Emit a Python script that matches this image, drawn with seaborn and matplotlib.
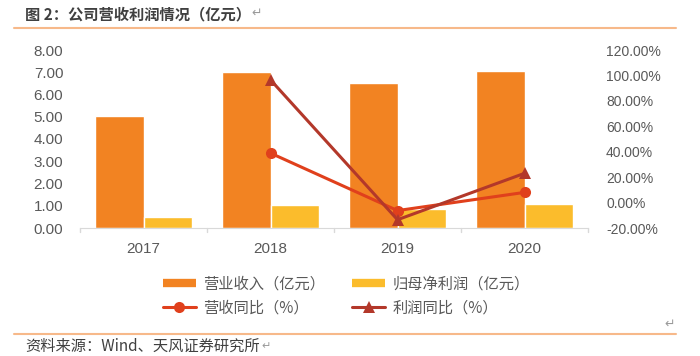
import pandas as pd
import numpy as np
import matplotlib
matplotlib.use('Agg')
import matplotlib.pyplot as plt
import seaborn as sns
from matplotlib.lines import Line2D

sns.set_style('white')
plt.rcParams['font.family'] = ['Liberation Sans', 'Noto Sans CJK SC', 'DejaVu Sans']

# data
years = ['2017', '2018', '2019', '2020']
revenue = [5.03, 7.00, 6.53, 7.06]        # 营业收入（亿元）
net_profit = [0.49, 1.02, 0.87, 1.09]     # 归母净利润（亿元）
growth_years = ['2018', '2019', '2020']
revenue_yoy = [38.9, -6.3, 8.0]           # 营收同比（%）
profit_yoy = [96.5, -13.5, 23.0]          # 利润同比（%）

bar_names = ['营业收入（亿元）', '归母净利润（亿元）']
line_names = ['营收同比（%）', '利润同比（%）']
bar_colors = ['#F28322', '#FBBC2C']
line_colors = ['#E0401C', '#B3382A']

cjk = ['Noto Sans CJK SC', 'DejaVu Sans']
grey = '#595959'

bars = pd.DataFrame({
    'year': years * 2,
    'value': revenue + net_profit,
    'series': [bar_names[0]] * 4 + [bar_names[1]] * 4,
})

fig = plt.figure(figsize=(7, 3.56), dpi=100)
ax = fig.add_axes([80 / 700, 1 - 228 / 356, 508 / 700, 178 / 356])

sns.barplot(data=bars, x='year', y='value', hue='series', palette=bar_colors,
            width=0.77, saturation=1, ax=ax, legend=False)
ax.set_ylim(0, 8)
ax.set_yticks(np.arange(0, 9, 1))
ax.set_yticklabels([f'{v:.2f}' for v in np.arange(0, 9, 1)])
ax.set_xlim(-0.5, 3.5)
ax.set_xlabel('')
ax.set_ylabel('')
for s in ['top', 'right', 'left']:
    ax.spines[s].set_visible(False)
ax.spines['bottom'].set_color('#D9D9D9')
ax.tick_params(axis='y', length=0, labelsize=11, labelcolor=grey, pad=12)
ax.tick_params(axis='x', length=0, labelsize=11, labelcolor=grey, pad=10)
# category separators
for xb in np.arange(-0.5, 4, 1):
    ax.plot([xb, xb], [0, -0.18], color='#D9D9D9', lw=1, clip_on=False)

ax2 = ax.twinx()
pos = [years.index(y) for y in growth_years]
sns.lineplot(x=pos, y=revenue_yoy, ax=ax2, color=line_colors[0], lw=2.2,
             marker='o', markersize=8, markeredgewidth=0)
sns.lineplot(x=pos, y=profit_yoy, ax=ax2, color=line_colors[1], lw=2.2,
             marker='^', markersize=9, markeredgewidth=0)
ax2.set_ylim(-20, 120)
ax2.set_yticks(np.arange(-20, 121, 20))
ax2.set_yticklabels([f'{v:.2f}%' for v in np.arange(-20, 121, 20)])
ax2.tick_params(axis='y', length=0, labelsize=10, labelcolor=grey, pad=13)
for s in ['top', 'right', 'left', 'bottom']:
    ax2.spines[s].set_visible(False)
ax2.set_xlim(-0.5, 3.5)

# legend: rows are [bars], [lines]; matplotlib fills column by column
h_bar0 = Line2D([], [], color=bar_colors[0], lw=6, solid_capstyle='butt')
h_bar1 = Line2D([], [], color=bar_colors[1], lw=6, solid_capstyle='butt')
h_line0 = Line2D([], [], color=line_colors[0], lw=2.2, marker='o', markersize=8, markeredgewidth=0)
h_line1 = Line2D([], [], color=line_colors[1], lw=2.2, marker='^', markersize=9, markeredgewidth=0)
fig.legend([h_bar0, h_line0, h_bar1, h_line1],
           [bar_names[0], line_names[0], bar_names[1], line_names[1]],
           loc='center', bbox_to_anchor=(346 / 700, 1 - 296 / 356),
           ncol=2, frameon=False, prop={'family': cjk, 'size': 11},
           labelcolor=grey, handlelength=2.2, columnspacing=1.75,
           handletextpad=0.45, labelspacing=0.5)

# title, rules and source
fig.text(25 / 700, 1 - 14 / 356, '图 2：公司营收利润情况（亿元）', family=cjk,
         fontsize=11, fontweight='bold', color='#404040', va='center')
fig.text(251 / 700, 1 - 14 / 356, '↵', fontsize=9, color='#9A9A9A', va='center')
fig.add_artist(Line2D([14 / 700, 676 / 700], [1 - 28 / 356] * 2, color='#F7B98A', lw=1.5))
fig.add_artist(Line2D([14 / 700, 676 / 700], [1 - 334 / 356] * 2, color='#F7B98A', lw=1.5))
fig.text(670 / 700, 1 - 325 / 356, '↵', fontsize=9, color='#9A9A9A', va='center', ha='center')
fig.text(25 / 700, 1 - 346 / 356, '资料来源：Wind、天风证券研究所', family=cjk,
         fontsize=11, color='#404040', va='center')
fig.text(261 / 700, 1 - 346 / 356, '↵', fontsize=8, color='#9A9A9A', va='center')

fig.savefig('out.png', dpi=100)
